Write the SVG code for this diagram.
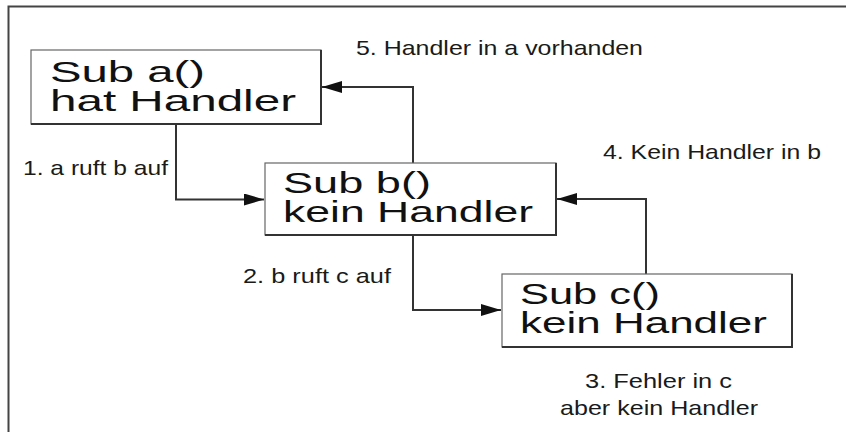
<svg xmlns="http://www.w3.org/2000/svg" width="846" height="432" viewBox="0 0 846 432">
<defs>
<style>
.box{fill:#fff;stroke:#666;stroke-width:1.2}
.shadow{fill:none;stroke:#333;stroke-width:2}
.big{font-family:"Liberation Sans",Arial,sans-serif;font-size:29px;fill:#111}
.lbl{font-family:"Liberation Sans",Arial,sans-serif;font-size:21px;fill:#1a1a1a}
.conn{fill:none;stroke:#333;stroke-width:2}
.frame{fill:none;stroke:#444;stroke-width:2}
</style>
<marker id="arr" markerUnits="userSpaceOnUse" markerWidth="20" markerHeight="12" refX="20" refY="6" orient="auto">
<path d="M0,0 L20,6 L0,12 z" fill="#111"/>
</marker>
</defs>
<rect width="846" height="432" fill="#fff"/>
<path class="frame" d="M8.5,432 V6.5 H846"/>
<g id="connectors">
<path class="conn" d="M176,124 V199.5 H264" marker-end="url(#arr)"/>
<path class="conn" d="M413,163 V87 H322" marker-end="url(#arr)"/>
<path class="conn" d="M413,236 V310 H501" marker-end="url(#arr)"/>
<path class="conn" d="M646,274 V199 H557" marker-end="url(#arr)"/>
</g>
<g id="node-a">
<rect class="box" x="31" y="50" width="290" height="74"/>
<path class="shadow" d="M321,50 V124 H31"/>
<text class="big" x="50" y="82" textLength="155" lengthAdjust="spacingAndGlyphs">Sub a()</text>
<text class="big" x="50" y="111" textLength="246" lengthAdjust="spacingAndGlyphs">hat Handler</text>
</g>
<g id="node-b">
<rect class="box" x="265" y="163" width="291" height="72"/>
<path class="shadow" d="M556,163 V235 H265"/>
<text class="big" x="283" y="193" textLength="148" lengthAdjust="spacingAndGlyphs">Sub b()</text>
<text class="big" x="283" y="222" textLength="250" lengthAdjust="spacingAndGlyphs">kein Handler</text>
</g>
<g id="node-c">
<rect class="box" x="502" y="274" width="290" height="73"/>
<path class="shadow" d="M792,274 V347 H502"/>
<text class="big" x="520" y="304" textLength="140" lengthAdjust="spacingAndGlyphs">Sub c()</text>
<text class="big" x="520" y="333" textLength="247" lengthAdjust="spacingAndGlyphs">kein Handler</text>
</g>
<g id="labels">
<text class="lbl" x="356" y="55" textLength="287" lengthAdjust="spacingAndGlyphs">5. Handler in a vorhanden</text>
<text class="lbl" x="23" y="175" textLength="145" lengthAdjust="spacingAndGlyphs">1. a ruft b auf</text>
<text class="lbl" x="603" y="159" textLength="218" lengthAdjust="spacingAndGlyphs">4. Kein Handler in b</text>
<text class="lbl" x="243" y="283" textLength="148" lengthAdjust="spacingAndGlyphs">2. b ruft c auf</text>
<text class="lbl" x="585" y="388" textLength="147" lengthAdjust="spacingAndGlyphs">3. Fehler in c</text>
<text class="lbl" x="560" y="415" textLength="198" lengthAdjust="spacingAndGlyphs">aber kein Handler</text>
</g>
</svg>
